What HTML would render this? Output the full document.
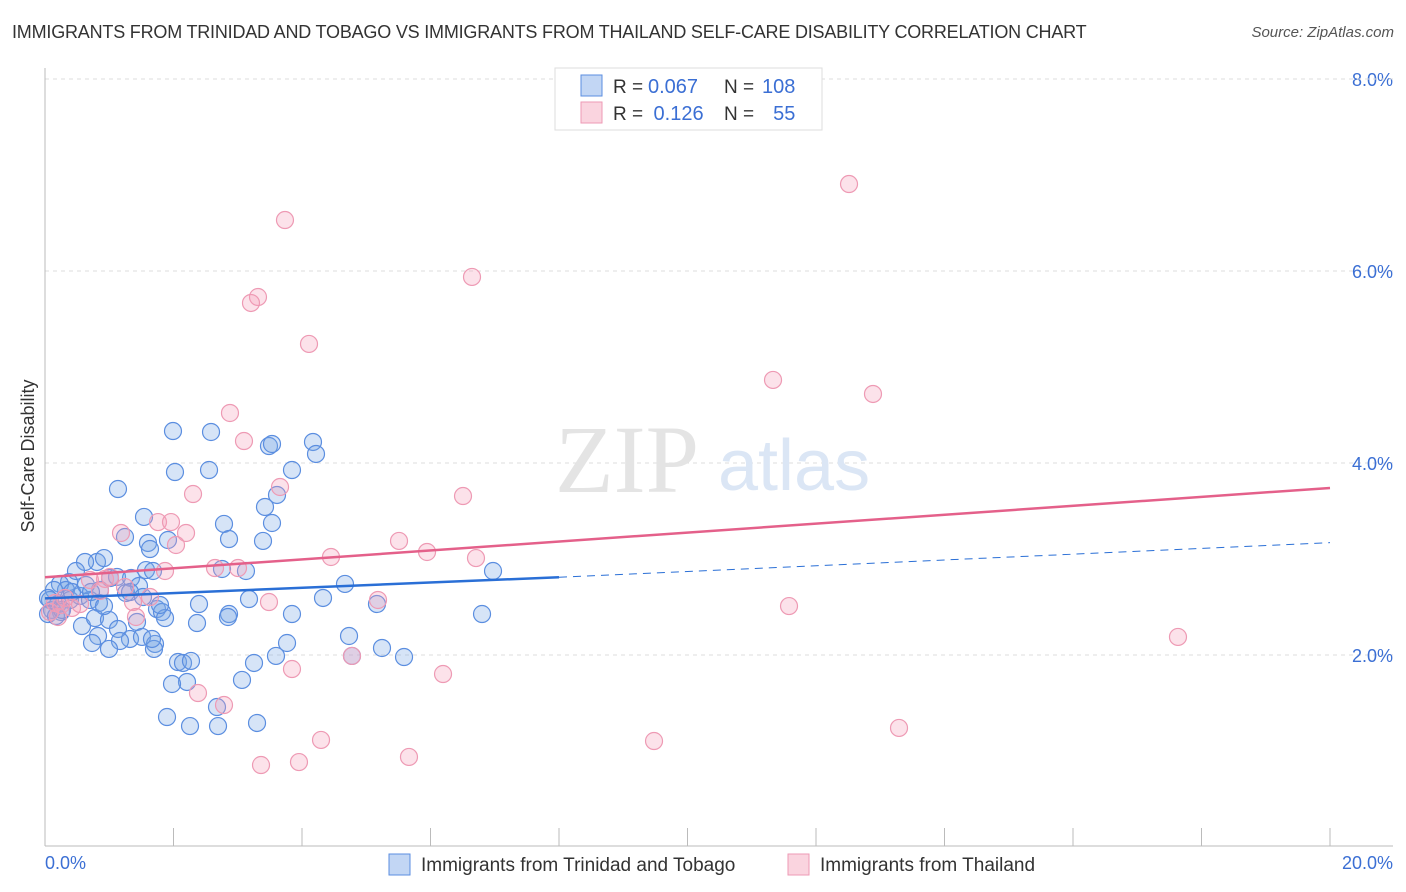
<!DOCTYPE html>
<html><head><meta charset="utf-8"><style>
body{margin:0;background:#fff;font-family:"Liberation Sans",sans-serif;}
#wrap{position:relative;width:1406px;height:892px;overflow:hidden;}
.title{position:absolute;left:12px;top:22px;font-size:18px;color:#333;letter-spacing:-0.2px}
.src{position:absolute;right:12px;top:24px;font-size:15px;color:#555;font-style:italic}
</style></head><body>
<div id="wrap">
<div class="title">IMMIGRANTS FROM TRINIDAD AND TOBAGO VS IMMIGRANTS FROM THAILAND SELF-CARE DISABILITY CORRELATION CHART</div>
<div class="src">Source: ZipAtlas.com</div>
<svg id="svg" width="1406" height="892" style="position:absolute;left:0;top:0"></svg>
</div>
<script>
const bluePx=[[173,431],[211,432],[175,472],[209,470],[118,489],[144,517],[224,524],[265,507],[277,495],[272,523],[263,541],[229,539],[125,537],[148,543],[150,549],[168,540],[269,446],[272,444],[313,442],[316,454],[292,470],[97,562],[104,558],[85,562],[69,582],[76,571],[60,584],[66,590],[54,590],[50,600],[52,610],[58,604],[70,600],[80,596],[90,600],[100,590],[110,578],[117,577],[131,578],[139,586],[146,570],[153,571],[126,593],[130,592],[143,597],[157,609],[162,612],[165,618],[160,605],[199,604],[222,569],[249,599],[229,614],[228,617],[246,571],[292,614],[345,584],[323,598],[377,604],[493,571],[482,614],[61,612],[82,626],[95,618],[98,636],[109,620],[118,629],[130,639],[120,641],[137,622],[142,637],[155,644],[154,649],[197,623],[152,639],[109,649],[92,643],[178,662],[183,663],[191,661],[187,682],[172,684],[167,717],[190,726],[218,726],[217,707],[257,723],[242,680],[254,663],[276,656],[287,643],[349,636],[352,656],[382,648],[404,657],[48,598],[48,614],[56,616],[62,610],[72,592],[86,585],[91,592],[99,603],[104,606]];
const pinkPx=[[849,184],[285,220],[472,277],[258,297],[251,303],[309,344],[773,380],[873,394],[230,413],[244,441],[280,487],[193,494],[463,496],[121,533],[158,522],[186,533],[171,522],[176,545],[399,541],[427,552],[331,557],[476,558],[165,571],[215,568],[238,568],[105,579],[90,580],[110,577],[125,587],[100,591],[133,602],[150,597],[269,602],[378,600],[789,606],[1178,637],[61,605],[50,612],[72,608],[136,617],[352,656],[292,669],[443,674],[198,693],[224,705],[321,740],[654,741],[899,728],[261,765],[299,762],[409,757],[55,603],[65,598],[80,604],[58,617]];
// data values (x %, y %)
const blueX=bluePx.map(p=>+((p[0]-45)/64.25).toFixed(3));
const blueY=bluePx.map(p=>+((847-p[1])/96).toFixed(3));
const pinkX=pinkPx.map(p=>+((p[0]-45)/64.25).toFixed(3));
const pinkY=pinkPx.map(p=>+((847-p[1])/96).toFixed(3));
const yTicks=[2,4,6,8];
const yTickLabels=["2.0%","4.0%","6.0%","8.0%"];
const blueTrend=[[0,2.59],[8,2.81],[20,3.17]];
const pinkTrend=[[0,2.81],[20,3.74]];
const X=v=>45+v*64.25, Y=v=>847-v*96;
const NS="http://www.w3.org/2000/svg", svg=document.getElementById('svg');
function mk(t,a,p){const e=document.createElementNS(NS,t);for(const k in a)e.setAttribute(k,a[k]);(p||svg).appendChild(e);return e;}
yTicks.forEach((t,i)=>{
 const g=mk('line',{x1:45,x2:1393,y1:Y(t),y2:Y(t),stroke:'#ddd','stroke-dasharray':'4,4'});
 
 
 const tx=mk('text',{x:1393,y:Y(t)+7,'text-anchor':'end','font-size':18,fill:'#3b6fd4'});tx.textContent=yTickLabels[i];
 
 
});
const g8=mk('line',{x1:45,x2:1393,y1:Y(8),y2:Y(8),stroke:'#ddd','stroke-dasharray':'4,4'});
mk('line',{x1:45,x2:45,y1:68,y2:846,stroke:'#bbb'});
mk('line',{x1:45,x2:1393,y1:846,y2:846,stroke:'#bbb'});
for(let i=1;i<=10;i++){const l=mk('line',{x1:X(i*2),x2:X(i*2),y1:828,y2:846,stroke:'#bbb'});}
let t=mk('text',{x:45,y:869,'font-size':18,fill:'#3b6fd4'});t.textContent='0.0%';

t=mk('text',{x:1393,y:869,'text-anchor':'end','font-size':18,fill:'#3b6fd4'});t.textContent='20.0%';

t=mk('text',{x:34,y:456,'text-anchor':'middle','font-size':18,fill:'#333',transform:'rotate(-90 34 456)'});t.textContent='Self-Care Disability';

t=mk('text',{x:555,y:492,'font-size':96,fill:'#e4e4e4','font-family':'Liberation Serif',}); t.textContent='ZIP';

t=mk('text',{x:718,y:490,'font-size':72,fill:'#dbe6f5'}); t.textContent='atlas';

blueX.forEach((x,i)=>{const c=mk('circle',{cx:X(x),cy:Y(blueY[i]),r:8.5,fill:'rgba(120,165,230,0.3)',stroke:'#5b8ee0','stroke-width':1.2});
 });
pinkX.forEach((x,i)=>{const c=mk('circle',{cx:X(x),cy:Y(pinkY[i]),r:8.5,fill:'rgba(245,160,185,0.3)',stroke:'#ee9ab4','stroke-width':1.2});
 });
let l=mk('line',{x1:X(blueTrend[0][0]),y1:Y(blueTrend[0][1]),x2:X(blueTrend[1][0]),y2:Y(blueTrend[1][1]),stroke:'#2a6fd6','stroke-width':2.5});

l=mk('line',{x1:X(blueTrend[1][0]),y1:Y(blueTrend[1][1]),x2:X(blueTrend[2][0]),y2:Y(blueTrend[2][1]),stroke:'#2a6fd6','stroke-width':1,'stroke-dasharray':'8,6'});

l=mk('line',{x1:X(pinkTrend[0][0]),y1:Y(pinkTrend[0][1]),x2:X(pinkTrend[1][0]),y2:Y(pinkTrend[1][1]),stroke:'#e4608a','stroke-width':2.5});

// top legend
const lg=mk('g',{});
mk('rect',{x:555,y:68,width:267,height:62,fill:'#fff',stroke:'#ddd'},lg);
mk('rect',{x:581,y:75,width:21,height:21,fill:'rgba(120,165,230,0.45)',stroke:'#5b8ee0'},lg);
mk('rect',{x:581,y:102,width:21,height:21,fill:'rgba(245,160,185,0.45)',stroke:'#ee9ab4'},lg);
const rows=[["R = ","0.067","N = ","108",93],["R = "," 0.126","N = ","  55",120]];
rows.forEach(r=>{
 let a=mk('text',{x:613,y:r[4],'font-size':19,fill:'#333'},lg);a.textContent=r[0];
 a=mk('text',{x:648,y:r[4],'font-size':20,fill:'#3b6fd4','xml:space':'preserve'},lg);a.textContent=r[1];a.style.whiteSpace='pre';
 a=mk('text',{x:724,y:r[4],'font-size':19,fill:'#333'},lg);a.textContent=r[2];
 a=mk('text',{x:762,y:r[4],'font-size':20,fill:'#3b6fd4'},lg);a.textContent=r[3];a.style.whiteSpace='pre';
});
// bottom legend
const bl=mk('g',{});
mk('rect',{x:389,y:854,width:21,height:21,fill:'rgba(120,165,230,0.45)',stroke:'#5b8ee0'},bl);
let b=mk('text',{x:421,y:871,'font-size':19,fill:'#333'},bl);b.textContent='Immigrants from Trinidad and Tobago';
mk('rect',{x:788,y:854,width:21,height:21,fill:'rgba(245,160,185,0.45)',stroke:'#ee9ab4'},bl);
b=mk('text',{x:820,y:871,'font-size':19,fill:'#333'},bl);b.textContent='Immigrants from Thailand';
</script>
</body></html>
